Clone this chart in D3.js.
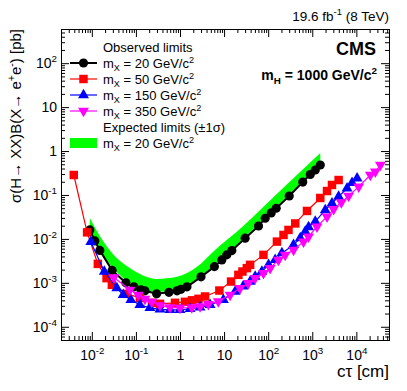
<!DOCTYPE html>
<html>
<head>
<meta charset="utf-8">
<script src="https://cdn.jsdelivr.net/npm/d3@7"></script>
<style>
    body { margin: 0; background: #fff; }
    svg { display: block; font-family: "Liberation Sans", Arial, Helvetica, sans-serif; }
</style>
</head>
<body>
<script>
// c*tau [cm] and observed limits [pb], one pair of arrays per m_X
const ctau20 = [0.009, 0.0117, 0.0152, 0.0289, 0.0593, 0.090, 0.130, 0.160, 0.295, 0.562, 0.855, 1.05, 1.44, 3.0, 6.03, 8.87, 11.5, 15.0, 30.0, 60.3, 85.5, 117, 152, 300, 608, 901, 1170, 1520];
const obs20 = [0.016, 0.009, 0.00548, 0.00192, 0.0010, 0.00081, 0.000693, 0.000658, 0.000562, 0.000608, 0.000658, 0.000711, 0.00081, 0.00137, 0.00234, 0.00333, 0.00433, 0.00542, 0.0104, 0.0197, 0.0295, 0.039, 0.0499, 0.0949, 0.197, 0.292, 0.370, 0.481];

const ctau50 = [0.0039, 0.00782, 0.0137, 0.0216, 0.0285, 0.0624, 0.123, 0.231, 0.351, 0.770, 1.30, 1.87, 2.63, 3.70, 7.82, 14.4, 21.1, 26.1, 32.8, 39.0, 78.2, 158, 223, 289, 411, 759, 1520, 2160, 2800, 3960];
const obs50 = [0.285, 0.0141, 0.0027, 0.00128, 0.0009, 0.000562, 0.000456, 0.000351, 0.000333, 0.000351, 0.00037, 0.0004, 0.000433, 0.000489, 0.000668, 0.00107, 0.00152, 0.00181, 0.00216, 0.00257, 0.00433, 0.00869, 0.0123, 0.016, 0.0225, 0.0433, 0.0855, 0.123, 0.169, 0.219];

const ctau150 = [0.0095, 0.0192, 0.037, 0.0514, 0.0769, 0.123, 0.208, 0.351, 0.593, 1.0, 1.69, 2.85, 4.81, 9.64, 17.8, 27.0, 39.0, 50.7, 71.9, 102, 144, 205, 376, 534, 693, 824, 1170, 1970, 2800, 3960, 6150, 7980, 10400];
const obs150 = [0.00855, 0.00181, 0.000759, 0.000534, 0.000411, 0.000316, 0.00027, 0.00025, 0.000243, 0.000243, 0.000257, 0.000277, 0.000316, 0.000411, 0.000634, 0.000832, 0.00107, 0.00139, 0.00181, 0.00257, 0.00333, 0.00473, 0.00731, 0.0104, 0.0147, 0.0187, 0.0247, 0.0456, 0.0647, 0.0914, 0.142, 0.19, 0.24];

const ctau350 = [0.0316, 0.0731, 0.113, 0.160, 0.228, 0.351, 0.593, 1.0, 1.85, 2.85, 4.40, 7.41, 13.7, 23.1, 35.6, 50.7, 78.2, 111, 171, 243, 376, 634, 824, 1280, 2160, 3050, 4560, 6680, 11300, 20800, 27000, 35100];
const obs350 = [0.00133, 0.000693, 0.000534, 0.000433, 0.00037, 0.000308, 0.000277, 0.00027, 0.000275, 0.000292, 0.000328, 0.000376, 0.000534, 0.000759, 0.000984, 0.00128, 0.00166, 0.00216, 0.00333, 0.00433, 0.00562, 0.00869, 0.0113, 0.0191, 0.0321, 0.0473, 0.0676, 0.0949, 0.155, 0.285, 0.339, 0.481];

// expected limit band (+-1 sigma) for m_X = 20
const ctauExp = [0.009, 0.0152, 0.030, 0.0731, 0.300, 0.855, 2.43, 6.24, 25.6, 73.1, 243, 1520];
const exp20Lo = [0.0135, 0.00562, 0.00219, 0.0010, 0.000624, 0.000694, 0.00117, 0.00257, 0.0095, 0.0262, 0.0841, 0.507];
const exp20Hi = [0.030, 0.0117, 0.00456, 0.00219, 0.00123, 0.00137, 0.00231, 0.00562, 0.0187, 0.0507, 0.160, 0.90];

// tick labels
const xMajor = [1e-2, 1e-1, 1, 10, 1e2, 1e3, 1e4];
const xTickBase = ["10", "10", "1", "10", "10", "10", "10"];
const xTickExp = ["-2", "-1", "", "", "2", "3", "4"];
const yMajor = [1e-4, 1e-3, 1e-2, 1e-1, 1, 10, 1e2];
const yTickBase = ["10", "10", "10", "10", "1", "10", "10"];
const yTickExp = ["-4", "-3", "-2", "-1", "", "", "2"];

const width = 407, height = 391;
const margin = {top: 29, right: 18, bottom: 51, left: 61};
const innerWidth = width - margin.left - margin.right;
const innerHeight = height - margin.top - margin.bottom;

const xScale = d3.scaleLog().domain([0.002, 55000]).range([0, innerWidth]);
const yScale = d3.scaleLog().domain([5e-5, 600]).range([innerHeight, 0]);

// text with sub/superscript pieces (baseline-shift, no dy)
const richText = (sel, parts, size) => {
    parts.forEach(([txt, mode]) => {
        if (!txt) return;
        const ts = sel.append("tspan").text(txt);
        if (mode) {
            ts.attr("font-size", size * 0.7)
              .attr("baseline-shift", mode === "sup" ? `${(0.42 * size).toFixed(1)}px` : `${(-0.25 * size).toFixed(1)}px`);
        }
    });
    return sel;
};

const svg = d3.select("body").append("svg").attr("width", width).attr("height", height);
svg.append("rect").attr("width", width).attr("height", height).attr("fill", "#fff");
const g = svg.append("g").attr("transform", `translate(${margin.left},${margin.top})`);

g.append("clipPath").attr("id", "frame")
    .append("rect").attr("width", innerWidth).attr("height", innerHeight);
const plot = g.append("g").attr("clip-path", "url(#frame)");

// band
const band = ctauExp.map((c, i) => [c, exp20Lo[i], exp20Hi[i]]);
plot.append("path").datum(band)
    .attr("fill", "#00ff00")
    .attr("d", d3.area()
        .x(d => xScale(d[0]))
        .y0(d => yScale(d[1]))
        .y1(d => yScale(d[2]))
        .curve(d3.curveMonotoneX));

const series = [
    {x: ctau20, y: obs20, color: "#000000", symbol: d3.symbolCircle, size: 66, rot: 0, lw: 2, mass: "20"},
    {x: ctau50, y: obs50, color: "#ff0000", symbol: d3.symbolSquare, size: 72, rot: 0, lw: 1.2, mass: "50"},
    {x: ctau150, y: obs150, color: "#0000ff", symbol: d3.symbolTriangle, size: 52, rot: 0, lw: 1.2, mass: "150"},
    {x: ctau350, y: obs350, color: "#ff00ff", symbol: d3.symbolTriangle, size: 52, rot: 180, lw: 1.2, mass: "350"}
];

series.forEach(s => {
    const pts = s.x.map((c, i) => [c, s.y[i]]);
    plot.append("path").datum(pts)
        .attr("fill", "none")
        .attr("stroke", s.color)
        .attr("stroke-width", s.lw)
        .attr("d", d3.line().x(d => xScale(d[0])).y(d => yScale(d[1])));
    plot.append("g").selectAll("path").data(pts).join("path")
        .attr("transform", d => `translate(${xScale(d[0])},${yScale(d[1])}) rotate(${s.rot})`)
        .attr("d", d3.symbol(s.symbol, s.size))
        .attr("fill", s.color);
});

// axes: ROOT style ticks on all four sides
const xMinor = xScale.ticks().filter(v => !xMajor.some(m => Math.abs(v / m - 1) < 1e-6));
const yMinor = yScale.ticks().filter(v => !yMajor.some(m => Math.abs(v / m - 1) < 1e-6));
const styleAxis = a => a.attr("font-family", null).attr("font-size", 14).call(s => s.select(".domain").remove());
const bare = a => a.call(styleAxis).call(s => s.selectAll("text").remove());

g.append("g").attr("transform", `translate(0,${innerHeight})`)
    .call(d3.axisBottom(xScale).tickValues(xMinor).tickSize(-4).tickSizeOuter(0))
    .call(bare);
const xAxis = g.append("g").attr("transform", `translate(0,${innerHeight})`)
    .call(d3.axisBottom(xScale).tickValues(xMajor).tickSize(-8).tickSizeOuter(0).tickPadding(10))
    .call(styleAxis);
xAxis.selectAll(".tick text").each(function(d, i) {
    richText(d3.select(this).text(""), [[xTickBase[i], ""], [xTickExp[i], "sup"]], 14);
});
g.append("g")
    .call(d3.axisTop(xScale).tickValues(xMinor).tickSize(-4).tickSizeOuter(0))
    .call(bare);
g.append("g")
    .call(d3.axisTop(xScale).tickValues(xMajor).tickSize(-8).tickSizeOuter(0))
    .call(bare);

g.append("g")
    .call(d3.axisLeft(yScale).tickValues(yMinor).tickSize(-4).tickSizeOuter(0))
    .call(bare);
const yAxis = g.append("g")
    .call(d3.axisLeft(yScale).tickValues(yMajor).tickSize(-8).tickSizeOuter(0).tickPadding(4))
    .call(styleAxis);
yAxis.selectAll(".tick text").each(function(d, i) {
    richText(d3.select(this).text(""), [[yTickBase[i], ""], [yTickExp[i], "sup"]], 14);
});
g.append("g").attr("transform", `translate(${innerWidth},0)`)
    .call(d3.axisRight(yScale).tickValues(yMinor).tickSize(-4).tickSizeOuter(0))
    .call(bare);
g.append("g").attr("transform", `translate(${innerWidth},0)`)
    .call(d3.axisRight(yScale).tickValues(yMajor).tickSize(-8).tickSizeOuter(0))
    .call(bare);

g.append("rect")
    .attr("x", 0.5).attr("y", 0.5)
    .attr("width", innerWidth).attr("height", innerHeight)
    .attr("fill", "none").attr("stroke", "#000").attr("stroke-width", 1);

// titles
richText(svg.append("text")
    .attr("transform", `translate(21,${margin.top}) rotate(-90)`)
    .attr("text-anchor", "end").attr("font-size", 15),
    [["σ(H→ XX)B(X→ e", ""], ["+", "sup"], ["e", ""], ["-", "sup"], [") [pb]", ""]], 15);

svg.append("text")
    .attr("x", margin.left + innerWidth).attr("y", 377)
    .attr("text-anchor", "end").attr("font-size", 17)
    .text("cτ [cm]");

richText(svg.append("text")
    .attr("x", margin.left + innerWidth).attr("y", 21)
    .attr("text-anchor", "end").attr("font-size", 13.5),
    [["19.6 fb", ""], ["-1", "sup"], [" (8 TeV)", ""]], 13.5);

svg.append("text")
    .attr("x", 376).attr("y", 55)
    .attr("text-anchor", "end").attr("font-size", 18).attr("font-weight", "bold")
    .text("CMS");

richText(svg.append("text")
    .attr("x", 377).attr("y", 80)
    .attr("text-anchor", "end").attr("font-size", 14).attr("font-weight", "bold"),
    [["m", ""], ["H", "sub"], [" = 1000 GeV/c", ""], ["2", "sup"]], 14);

// legend
const legend = svg.append("g").attr("font-size", 13);
legend.append("text").attr("x", 103).attr("y", 52).text("Observed limits");
series.forEach((s, i) => {
    const cy = 63 + i * 16;
    legend.append("line")
        .attr("x1", 70).attr("x2", 97).attr("y1", cy).attr("y2", cy)
        .attr("stroke", s.color).attr("stroke-width", s.lw);
    legend.append("path")
        .attr("transform", `translate(83.5,${cy}) rotate(${s.rot})`)
        .attr("d", d3.symbol(s.symbol, s.size))
        .attr("fill", s.color);
    richText(legend.append("text").attr("x", 103).attr("y", cy + 4.5),
        [["m", ""], ["X", "sub"], [` = ${s.mass} GeV/c`, ""], ["2", "sup"]], 13);
});
legend.append("text").attr("x", 103).attr("y", 132).text("Expected limits (±1σ)");
legend.append("rect")
    .attr("x", 70).attr("y", 138).attr("width", 27).attr("height", 10)
    .attr("fill", "#00ff00");
richText(legend.append("text").attr("x", 103).attr("y", 148),
    [["m", ""], ["X", "sub"], [" = 20 GeV/c", ""], ["2", "sup"]], 13);
</script>
</body>
</html>
